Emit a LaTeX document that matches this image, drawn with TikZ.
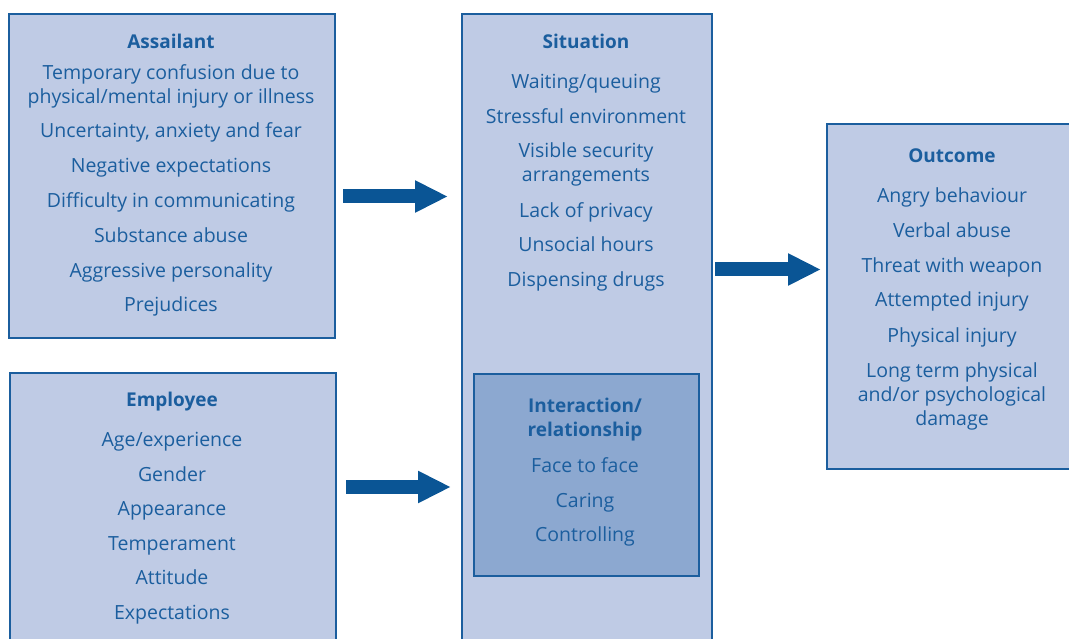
\documentclass[tikz,border=0pt]{standalone}
\usepackage{fontspec}
\setmainfont{Open Sans}
\usetikzlibrary{arrows.meta}

\definecolor{boxblue}{HTML}{1B5E9E}
\definecolor{boxfill}{HTML}{BFCBE5}
\definecolor{innerfill}{HTML}{8CA8D0}
\definecolor{arrowblue}{HTML}{0A5595}

\begin{document}
\begin{tikzpicture}[x=1pt, y=-1pt,
  box/.style={draw=boxblue, fill=boxfill, line width=2.2pt, inner sep=0pt, anchor=north west},
  innerbox/.style={box, fill=innerfill},
  title/.style={font=\bfseries\fontsize{19}{24}\selectfont, text=boxblue, anchor=base, align=center, inner sep=0pt},
  item/.style={font=\fontsize{19.5}{24}\selectfont, text=boxblue, anchor=base, align=center, inner sep=0pt},
  bigarrow/.style={arrowblue, line width=14pt, -{Triangle[length=33pt, width=30pt]}}]
  \clip (0,0) rectangle (1069,639);

  % Define boxes
  \node[box, minimum width=326pt, minimum height=324pt] (assailant) at (8,13) {};
  \node[box, minimum width=326pt, minimum height=300pt] (employee) at (9,372) {};
  \node[box, minimum width=250pt, minimum height=660pt] (situation) at (461,13) {};
  \node[innerbox, minimum width=225pt, minimum height=202pt] (interaction) at (473,373) {};
  \node[box, minimum width=280pt, minimum height=345pt] (outcome) at (826,123) {};

  % Assailant
  \node[title] (assailanttitle) at (171,49) {Assailant};
  \node[item] (as1) at (171,103.5) {Temporary confusion due to\\physical/mental injury or illness};
  \node[item] (as2) at (171,138) {Uncertainty, anxiety and fear};
  \node[item] (as3) at (171,173) {Negative expectations};
  \node[item] (as4) at (171,208) {Difficulty in communicating};
  \node[item] (as5) at (171,243) {Substance abuse};
  \node[item] (as6) at (171,278) {Aggressive personality};
  \node[item] (as7) at (171,312) {Prejudices};

  % Employee
  \node[title] (employeetitle) at (172,406) {Employee};
  \node[item] (em1) at (172,446) {Age/experience};
  \node[item] (em2) at (172,481) {Gender};
  \node[item] (em3) at (172,515) {Appearance};
  \node[item] (em4) at (172,550) {Temperament};
  \node[item] (em5) at (172,584) {Attitude};
  \node[item] (em6) at (172,619) {Expectations};

  % Situation
  \node[title] (situationtitle) at (586,49) {Situation};
  \node[item] (si1) at (586,89) {Waiting/queuing};
  \node[item] (si2) at (586,124) {Stressful environment};
  \node[item] (si3) at (586,182) {Visible security\\arrangements};
  \node[item] (si4) at (586,218) {Lack of privacy};
  \node[item] (si5) at (586,252) {Unsocial hours};
  \node[item] (si6) at (586,287) {Dispensing drugs};

  % Interaction
  \node[title] (interactiontitle) at (585,436) {Interaction/\\relationship};
  \node[item] (in1) at (585,472) {Face to face};
  \node[item] (in2) at (585,507) {Caring};
  \node[item] (in3) at (585,541) {Controlling};

  % Outcome
  \node[title] (outcometitle) at (952,163) {Outcome};
  \node[item] (ou1) at (952,203) {Angry behaviour};
  \node[item] (ou2) at (952,238) {Verbal abuse};
  \node[item] (ou3) at (952,273) {Threat with weapon};
  \node[item] (ou4) at (952,307) {Attempted injury};
  \node[item] (ou5) at (952,342) {Physical injury};
  \node[item] (ou6) at (952,425) {Long term physical\\and/or psychological\\damage};

  % Arrow ends
  \coordinate (assailantout) at (343,196.5);
  \coordinate (situationin) at (448,196.5);
  \coordinate (employeeout) at (346,487);
  \coordinate (interactionin) at (451,487);
  \coordinate (situationout) at (715,269.5);
  \coordinate (outcomein) at (821,269.5);

  % Draw arrows
  \draw[bigarrow] (assailantout) -- (situationin);
  \draw[bigarrow] (employeeout) -- (interactionin);
  \draw[bigarrow] (situationout) -- (outcomein);
\end{tikzpicture}
\end{document}
